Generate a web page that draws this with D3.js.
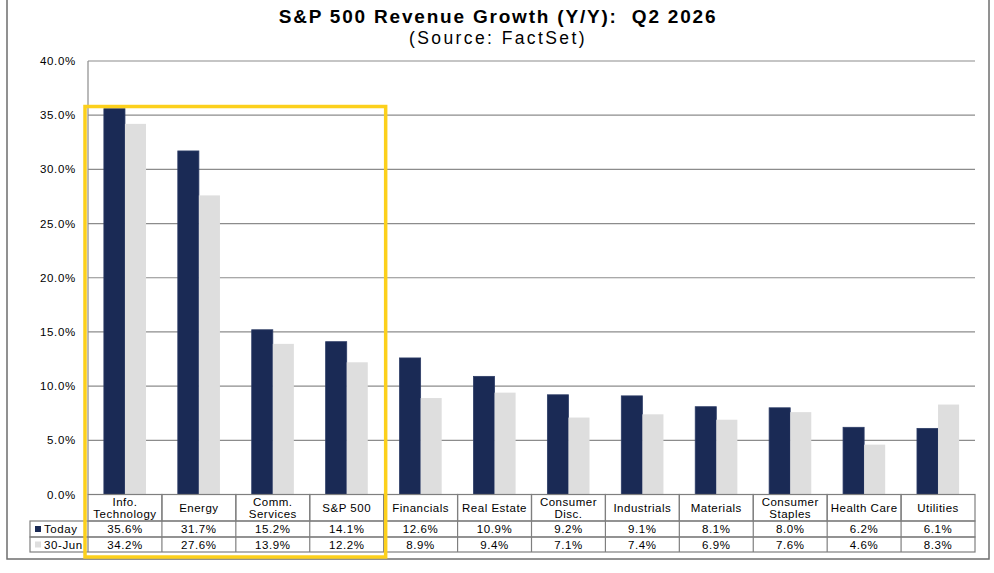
<!DOCTYPE html>
<html>
<head>
<meta charset="utf-8">
<script src="https://cdn.jsdelivr.net/npm/d3@7"></script>
<style>
  body { margin: 0; background: #fff; }
  text { font-family: "Liberation Sans", Arial, sans-serif; }
</style>
</head>
<body>
<script>
const categories = ["Info.\nTechnology", "Energy", "Comm.\nServices", "S&P 500", "Financials", "Real Estate",
    "Consumer\nDisc.", "Industrials", "Materials", "Consumer\nStaples", "Health Care", "Utilities"];
const today = [35.6, 31.7, 15.2, 14.1, 12.6, 10.9, 9.2, 9.1, 8.1, 8.0, 6.2, 6.1];
const june30 = [34.2, 27.6, 13.9, 12.2, 8.9, 9.4, 7.1, 7.4, 6.9, 7.6, 4.6, 8.3];
const seriesNames = ["Today", "30-Jun"];
const yTicks = [0, 5, 10, 15, 20, 25, 30, 35, 40];
const highlighted = ["Info.\nTechnology", "Energy", "Comm.\nServices", "S&P 500"];

const W = 994, H = 573;
const plotLeft = 88, plotRight = 975, plotTop = 61, plotBottom = 494.5;
const colors = ["#1a2a55", "#dedede"];

const svg = d3.select("body").append("svg")
    .attr("width", W)
    .attr("height", H);

// outer frame
svg.append("rect")
    .attr("x", 7).attr("y", -5)
    .attr("width", 982).attr("height", 564)
    .attr("fill", "none")
    .attr("stroke", "#6e6e6e")
    .attr("stroke-width", 1.5);

// title
svg.append("text")
    .attr("x", 498).attr("y", 23)
    .attr("text-anchor", "middle")
    .attr("font-size", "19px")
    .attr("font-weight", "bold")
    .attr("letter-spacing", "1.8px")
    .attr("xml:space", "preserve")
    .text("S&P 500 Revenue Growth (Y/Y):  Q2 2026");

svg.append("text")
    .attr("x", 498).attr("y", 44)
    .attr("text-anchor", "middle")
    .attr("font-size", "17.5px")
    .attr("letter-spacing", "2.4px")
    .text("(Source: FactSet)");

// scales
const x = d3.scaleBand()
    .domain(categories)
    .range([plotLeft, plotRight])
    .padding(0);

const y = d3.scaleLinear()
    .domain([0, 40])
    .range([plotBottom, plotTop]);

const bw = x.bandwidth();

// grid lines
svg.append("g")
    .selectAll("line")
    .data(yTicks)
    .enter().append("line")
    .attr("x1", plotLeft).attr("x2", plotRight)
    .attr("y1", d => y(d)).attr("y2", d => y(d))
    .attr("stroke", "#8c8c8c")
    .attr("stroke-width", 1.2);

// left axis line
svg.append("line")
    .attr("x1", plotLeft).attr("x2", plotLeft)
    .attr("y1", plotTop).attr("y2", plotBottom)
    .attr("stroke", "#8c8c8c")
    .attr("stroke-width", 1.2);

// y tick labels
svg.append("g")
    .selectAll("text")
    .data(yTicks)
    .enter().append("text")
    .attr("x", 76)
    .attr("y", d => y(d))
    .attr("dy", "0.35em")
    .attr("text-anchor", "end")
    .attr("font-size", "11.5px")
    .attr("letter-spacing", "0.7px")
    .text(d => d.toFixed(1) + "%");

// bars
const barW = bw * 0.285;
const barOff = bw * 0.215;
[today, june30].forEach(function(vals, s) {
    svg.append("g")
        .selectAll("rect")
        .data(vals)
        .enter().append("rect")
        .attr("x", (d, i) => x(categories[i]) + barOff + s * barW)
        .attr("width", barW)
        .attr("y", d => y(d))
        .attr("height", d => y(0) - y(d))
        .attr("fill", colors[s])
        .attr("stroke", s === 0 ? "#2c3c66" : "none")
        .attr("stroke-width", 0.8);
});

// data table
const rowTop = [494.5, 521, 537];
const rowBot = [521, 537, 552];
const legendLeft = 30;
const table = svg.append("g");

// header cells
table.selectAll(".hcell")
    .data(categories)
    .enter().append("rect")
    .attr("class", "hcell")
    .attr("x", d => x(d))
    .attr("y", rowTop[0])
    .attr("width", bw)
    .attr("height", rowBot[0] - rowTop[0])
    .attr("fill", "none")
    .attr("stroke", "#7f7f7f")
    .attr("stroke-width", 1.2);

categories.forEach(function(c) {
    const lines = c.split("\n");
    const cx = x(c) + bw / 2;
    const mid = (rowTop[0] + rowBot[0]) / 2;
    lines.forEach(function(l, k) {
        table.append("text")
            .attr("x", cx)
            .attr("y", mid + (k - (lines.length - 1) / 2) * 11.5)
            .attr("dy", "0.35em")
            .attr("text-anchor", "middle")
            .attr("font-size", "11.5px")
            .attr("letter-spacing", "0.5px")
            .text(l);
    });
});

// value rows
[today, june30].forEach(function(vals, s) {
    table.append("rect")
        .attr("x", legendLeft)
        .attr("y", rowTop[s + 1])
        .attr("width", plotRight - legendLeft)
        .attr("height", rowBot[s + 1] - rowTop[s + 1])
        .attr("fill", "none")
        .attr("stroke", "#7f7f7f")
        .attr("stroke-width", 1.2);

    table.selectAll(".vcell" + s)
        .data(vals)
        .enter().append("line")
        .attr("class", "vcell" + s)
        .attr("x1", (d, i) => x(categories[i]))
        .attr("x2", (d, i) => x(categories[i]))
        .attr("y1", rowTop[s + 1])
        .attr("y2", rowBot[s + 1])
        .attr("stroke", "#7f7f7f")
        .attr("stroke-width", 1.2);

    table.selectAll(".vtext" + s)
        .data(vals)
        .enter().append("text")
        .attr("class", "vtext" + s)
        .attr("x", (d, i) => x(categories[i]) + bw / 2)
        .attr("y", (rowTop[s + 1] + rowBot[s + 1]) / 2)
        .attr("dy", "0.36em")
        .attr("text-anchor", "middle")
        .attr("font-size", "11.5px")
        .attr("letter-spacing", "0.6px")
        .text(d => d.toFixed(1) + "%");

    // legend key
    table.append("rect")
        .attr("x", legendLeft + 5)
        .attr("y", (rowTop[s + 1] + rowBot[s + 1]) / 2 - 3)
        .attr("width", 6)
        .attr("height", 6)
        .attr("fill", colors[s]);

    table.append("text")
        .attr("x", legendLeft + 14)
        .attr("y", (rowTop[s + 1] + rowBot[s + 1]) / 2)
        .attr("dy", "0.36em")
        .attr("font-size", "11.5px")
        .attr("letter-spacing", "0.6px")
        .text(seriesNames[s]);
});

// highlight box around the first four categories
const hx0 = x(highlighted[0]) - 3;
const hx1 = x(highlighted[highlighted.length - 1]) + bw + 2;
svg.append("rect")
    .attr("x", hx0)
    .attr("y", y(35.8))
    .attr("width", hx1 - hx0)
    .attr("height", 557 - y(35.8))
    .attr("fill", "none")
    .attr("stroke", "#fcd01c")
    .attr("stroke-width", 3.5);
</script>
</body>
</html>
